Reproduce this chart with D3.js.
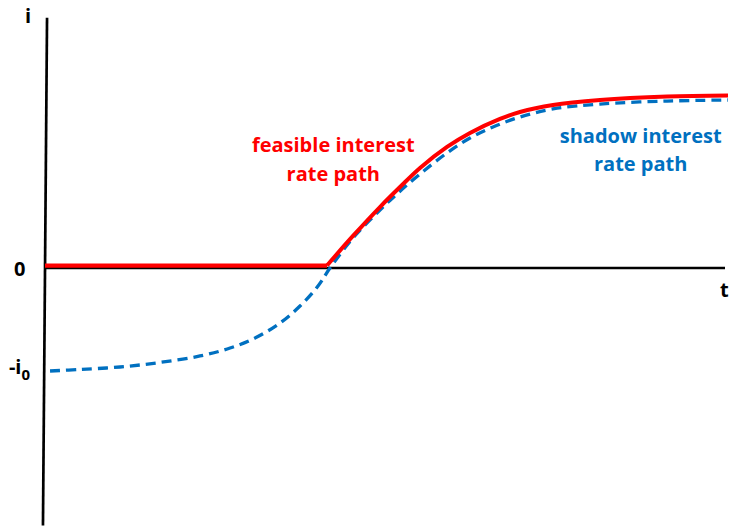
<!DOCTYPE html>
<html>
<head>
<meta charset="utf-8">
<script src="https://cdn.jsdelivr.net/npm/d3@7"></script>
<style>
  html, body { margin: 0; padding: 0; background: #fff; }
  svg { display: block; }
  text { font-family: "Open Sans", sans-serif; font-weight: bold; }
</style>
</head>
<body>
<svg id="chart" width="731" height="526"></svg>
<script>
// ---- data (t in arbitrary time units, i in units of i0) ----
// feasible path: flat at the zero bound, then rising
const feasibleFlatT = [0, 41.47];
const feasibleFlatI = [0.024, 0.024];
const feasibleT = [41.47, 45.29, 49.26, 52.21, 55.15, 59.12, 62.5, 66.91, 69.85, 74.71, 81.62, 91.47, 100.44];
const feasibleI = [0.024, 0.311, 0.592, 0.786, 0.971, 1.175, 1.311, 1.447, 1.515, 1.583, 1.631, 1.665, 1.675];

const shadowT = [0.74, 5.15, 11.03, 16.91, 22.79, 27.21, 30.88, 34.56, 37.5, 40.15, 41.91, 45.29, 48.82, 51.91, 55.15, 59.12, 62.5, 65.88, 69.85, 74.71, 81.62, 91.47, 100.44];
const shadowI = [-1.0, -0.985, -0.961, -0.917, -0.854, -0.777, -0.68, -0.534, -0.369, -0.175, 0.0, 0.291, 0.534, 0.728, 0.913, 1.117, 1.262, 1.369, 1.466, 1.544, 1.592, 1.621, 1.631];

const tAxisExtent = [0, 100];
const iAxisT = [0.3, -0.3];
const iAxisI = [2.43, -2.5];

const axisLabels = ["i", "0", "t"];
const seriesLabels = [["feasible interest", "rate path"], ["shadow interest", "rate path"]];

// ---- scales ----
const x = d3.scaleLinear().domain([0, 100]).range([45, 725]);
const y = d3.scaleLinear().domain([0, -1]).range([268, 371]);

const svg = d3.select("#chart");

// axes
svg.append("line")
  .attr("x1", x(tAxisExtent[0])).attr("x2", x(tAxisExtent[1]))
  .attr("y1", y(0)).attr("y2", y(0))
  .attr("stroke", "#000").attr("stroke-width", 2.7);

svg.append("line")
  .attr("x1", x(iAxisT[0])).attr("x2", x(iAxisT[1]))
  .attr("y1", y(iAxisI[0])).attr("y2", y(iAxisI[1]))
  .attr("stroke", "#000").attr("stroke-width", 2.7);

const curve = d3.line()
  .x(d => x(d[0])).y(d => y(d[1]))
  .curve(d3.curveCatmullRom.alpha(0.5));
const straight = d3.line()
  .x(d => x(d[0])).y(d => y(d[1]));

// shadow path (dashed blue)
svg.append("path")
  .datum(shadowT.map((t, k) => [t, shadowI[k]]))
  .attr("d", curve)
  .attr("fill", "none")
  .attr("stroke", "#0070C0")
  .attr("stroke-width", 3.3)
  .attr("stroke-dasharray", "10,6");

// feasible path (solid red)
svg.append("path")
  .datum(feasibleFlatT.map((t, k) => [t, feasibleFlatI[k]]))
  .attr("d", straight)
  .attr("fill", "none")
  .attr("stroke", "#FF0000")
  .attr("stroke-width", 4.2);

svg.append("path")
  .datum(feasibleT.map((t, k) => [t, feasibleI[k]]))
  .attr("d", curve)
  .attr("fill", "none")
  .attr("stroke", "#FF0000")
  .attr("stroke-width", 4);

// axis labels
const lab = svg.append("g").attr("font-size", 20).attr("fill", "#000");
lab.append("text").attr("x", x(-2.5)).attr("y", y(2.379)).attr("text-anchor", "middle").text(axisLabels[0]);
lab.append("text").attr("x", x(-3.7)).attr("y", y(-0.078)).attr("text-anchor", "middle").text(axisLabels[1]);
lab.append("text").attr("x", x(99.9)).attr("y", y(-0.28)).attr("text-anchor", "middle").text(axisLabels[2]);
const i0 = lab.append("text").attr("x", x(-2.2)).attr("y", y(-1.03)).attr("text-anchor", "end");
i0.append("tspan").text("-i");
i0.append("tspan").attr("dy", 6).attr("font-size", 15).text("0");

// series labels
const red = svg.append("text").attr("font-size", 20).attr("fill", "#FF0000").attr("text-anchor", "middle");
red.append("tspan").attr("x", x(42.4)).attr("y", y(1.126)).text(seriesLabels[0][0]);
red.append("tspan").attr("x", x(42.4)).attr("y", y(0.845)).text(seriesLabels[0][1]);

const blue = svg.append("text").attr("font-size", 20).attr("fill", "#0070C0").attr("text-anchor", "middle");
blue.append("tspan").attr("x", x(87.6)).attr("y", y(1.214)).text(seriesLabels[1][0]);
blue.append("tspan").attr("x", x(87.6)).attr("y", y(0.942)).text(seriesLabels[1][1]);
</script>
</body>
</html>
